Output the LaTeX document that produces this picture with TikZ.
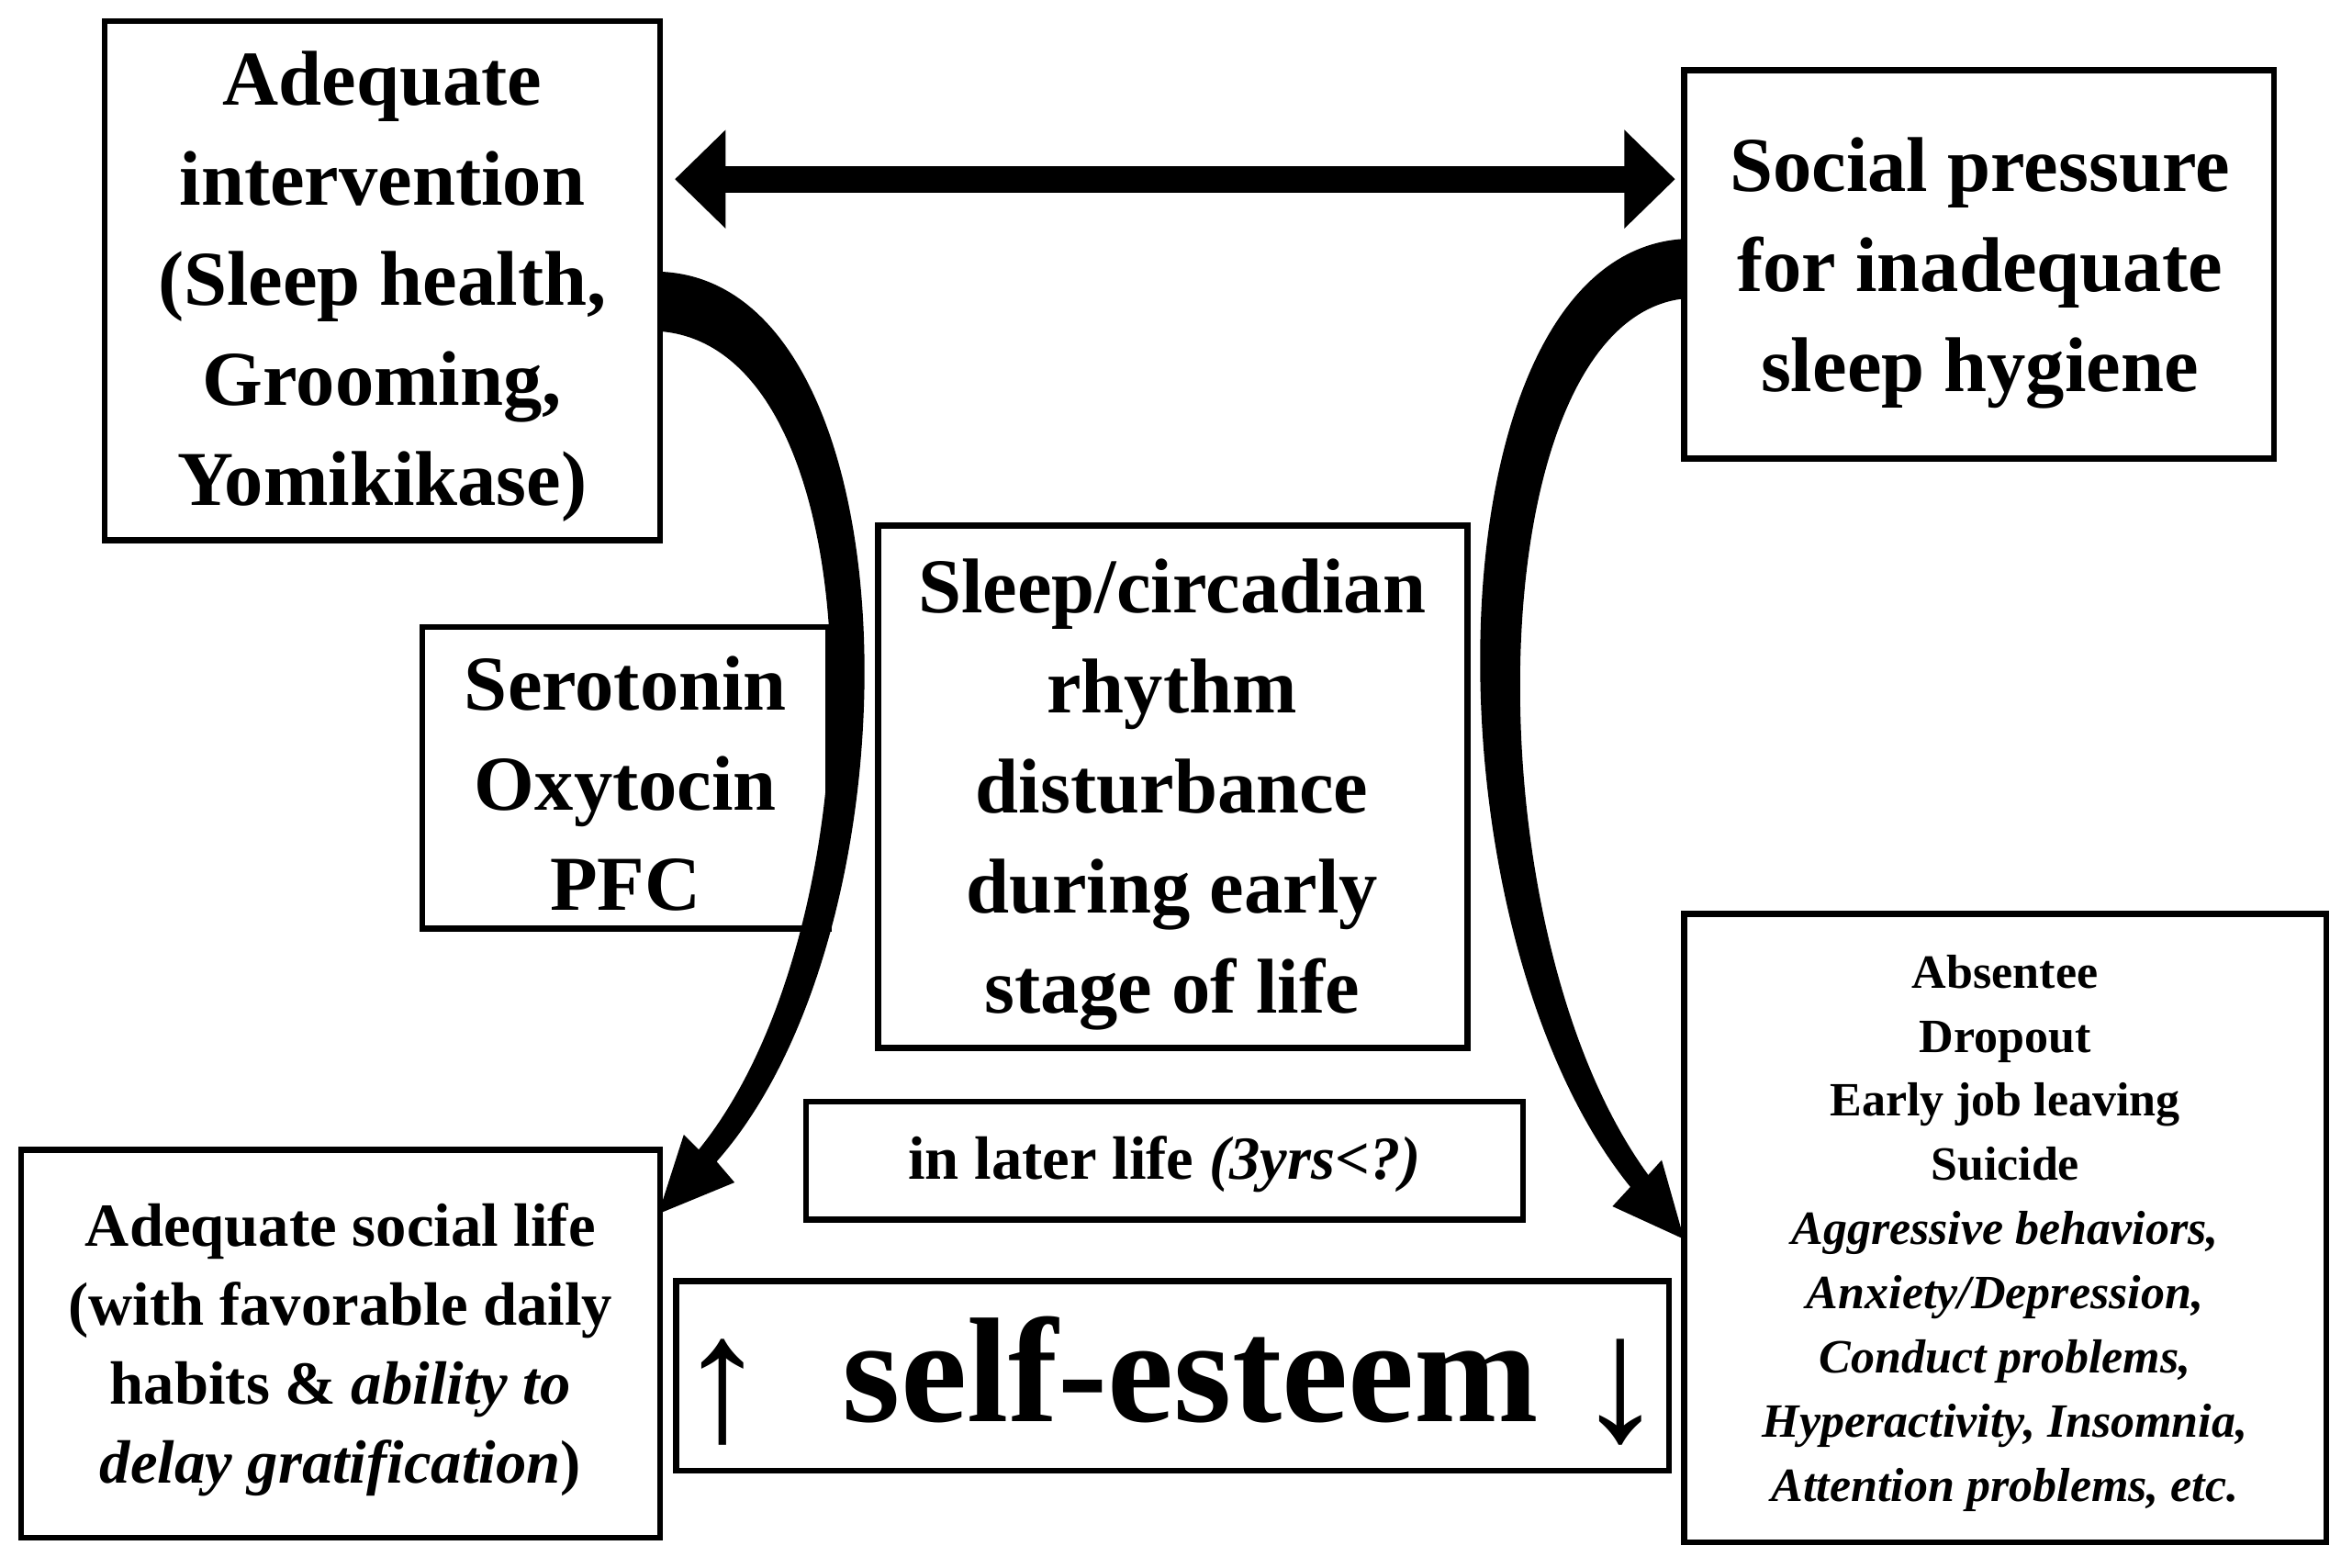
\documentclass[tikz,border=0pt]{standalone}
\usepackage{fontspec}
\setmainfont{Liberation Serif}
\usetikzlibrary{arrows.meta}
\begin{document}
\begin{tikzpicture}[x=0.5pt,y=-0.5pt,
  bx/.style={draw,line width=2pt},
  t/.style={align=center,font=\bfseries\fontsize{26}{33.5}\selectfont},
  ts/.style={align=center,font=\bfseries\fontsize{20.5}{26.5}\selectfont},
  tr/.style={align=center,font=\bfseries\fontsize{16}{21.5}\selectfont}]
\useasboundingbox (0,0) rectangle (1568,1050);
\draw[bx] (70,14) rectangle (442,362);
\node[t] (a) at (256,192) {Adequate\\intervention\\(Sleep health,\\Grooming,\\Yomikikase)};
\draw[bx] (1128,47) rectangle (1523,307);
\node[t] (b) at (1326,183) {Social pressure\\for inadequate\\sleep hygiene};
\draw[bx] (283,420) rectangle (555,622);
\node[t] (s) at (419,525) {Serotonin\\Oxytocin\\PFC};
\draw[bx] (588,352) rectangle (983,702);
\node[t] (c) at (785,532) {Sleep/circadian\\rhythm\\disturbance\\during early\\stage of life};
\draw[bx] (540,738) rectangle (1020,817);
\node[ts] (l) at (780,780) {in later life \textit{(3yrs<?)}};
\draw[bx] (14,770) rectangle (442,1030);
\node[ts] (g) at (228,904) {Adequate social life\\(with favorable daily\\habits \& \textit{ability to}\\\textit{delay gratification})};
\draw[bx] (453,858) rectangle (1118,985);
\node[font=\bfseries\fontsize{50}{56}\selectfont] (e) at (785,925) {\raisebox{-6pt}{\fontsize{60}{60}\selectfont\mdseries ↑}\ \ self-esteem \raisebox{-6pt}{\fontsize{60}{60}\selectfont\mdseries ↓}};
\draw[bx] (1128,612) rectangle (1558,1033);
\node[tr] (r) at (1343,826) {Absentee\\Dropout\\Early job leaving\\Suicide\\\textit{Aggressive behaviors,}\\\textit{Anxiety/Depression,}\\\textit{Conduct problems,}\\\textit{Hyperactivity, Insomnia,}\\\textit{Attention problems, etc.}};
\coordinate (p1) at (452,120);
\coordinate (p2) at (1122,120);
\draw[line width=9pt,{Triangle[width=32pt,length=17pt]}-{Triangle[width=32pt,length=17pt]}] (p1) -- (p2);
% left curved arrow
\fill (443,182) .. controls (615,190) and (620,620) .. (480,778)
  -- (492,792) -- (441,813) -- (458,760) -- (468,770)
  .. controls (590,620) and (590,235) .. (443,222) -- cycle;
% right curved arrow
\fill (1128,160) .. controls (955,170) and (950,620) .. (1092,795)
  -- (1080,808) -- (1128,830) -- (1113,777) -- (1104,787)
  .. controls (982,620) and (990,215) .. (1128,200) -- cycle;
\end{tikzpicture}
\end{document}
